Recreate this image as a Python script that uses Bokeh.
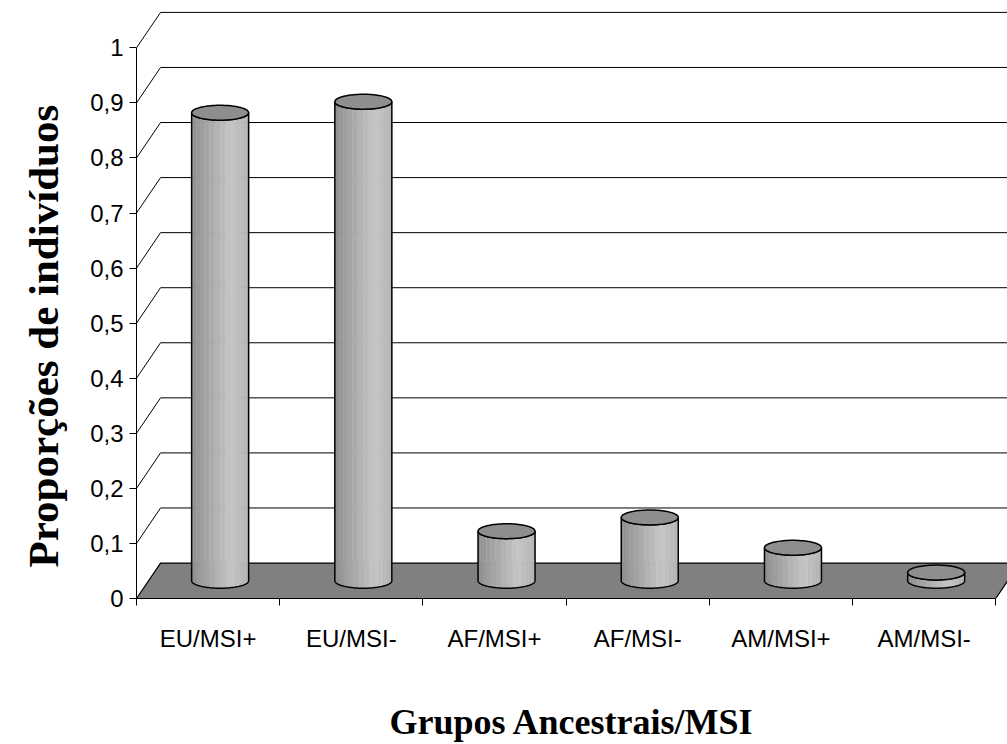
import numpy as np
from bokeh.plotting import figure
from bokeh.models import Range1d, FixedTicker, LinearAxis, ColumnDataSource, Title
from bokeh.embed import file_html
from bokeh.resources import INLINE

# Proportion of individuals per ancestral group / MSI status
categories = ["EU/MSI+", "EU/MSI-", "AF/MSI+", "AF/MSI-", "AM/MSI+", "AM/MSI-"]
proportions = [0.85, 0.87, 0.09, 0.115, 0.06, 0.015]

y_ticks = [0.0, 0.1, 0.2, 0.3, 0.4, 0.5, 0.6, 0.7, 0.8, 0.9, 1.0]
y_tick_labels = ["0", "0,1", "0,2", "0,3", "0,4", "0,5", "0,6", "0,7", "0,8", "0,9", "1"]

x_title = "Grupos Ancestrais/MSI"
y_title = "Proporções de indivíduos"

# pseudo-3D geometry (in data units)
n = len(categories)
depth_x = 0.168      # horizontal shift of the back wall, in category widths
depth_y = 0.0644     # vertical shift of the back wall, in value units
rad_x = 0.199        # cylinder radius (horizontal)
rad_y = 0.0135       # cylinder cap half-height
x_end = n + 0.082
y_end = 1.086

p = figure(width=1007, height=744, output_backend="svg", toolbar_location=None,
           x_range=Range1d(0, x_end), y_range=Range1d(0, y_end),
           x_axis_type=None, y_axis_type=None,
           min_border_left=136, min_border_right=0, min_border_top=0,
           min_border_bottom=137)
p.grid.visible = False
p.outline_line_color = None
p.background_fill_color = "white"
p.border_fill_color = "white"

# back wall gridlines with their diagonal on the side wall
for v in y_ticks[1:]:
    p.line([0, depth_x, x_end + 1], [v, v + depth_y, v + depth_y],
           line_color="black", line_width=1)

# floor
p.patch([0, depth_x, n + depth_x, n], [0, depth_y, depth_y, 0],
        fill_color="#808080", line_color="black", line_width=1.2)

# shading profile across a cylinder (0 = left edge, 1 = right edge)
shade_pos = [0.0, 0.3, 0.6, 0.85, 1.0]
shade_val = [180, 198, 175, 155, 142]

strip_xs, strip_ys, strip_col = [], [], []
out_xs, out_ys = [], []
cap_xs, cap_ys = [], []
n_strips = 16
for i, v in enumerate(proportions):
    cx = i + 0.5 + depth_x / 2
    y0 = depth_y / 2
    y1 = v + depth_y / 2
    th = np.linspace(np.pi, 0, n_strips + 1)
    for k in range(n_strips):
        tt = np.linspace(th[k], th[k + 1], 5)
        bx = cx + rad_x * np.cos(tt)
        by = y0 - rad_y * np.sin(tt)
        ty = y1 - rad_y * np.sin(tt)
        strip_xs.append(list(bx) + list(bx[::-1]))
        strip_ys.append(list(by) + list(ty[::-1]))
        t_mid = (1 - np.cos((th[k] + th[k + 1]) / 2)) / 2
        g = int(round(np.interp(t_mid, shade_pos, shade_val)))
        strip_col.append("#%02x%02x%02x" % (g, g, g))
    ta = np.linspace(np.pi, 0, 60)
    ax = cx + rad_x * np.cos(ta)
    out_xs.append(list(ax) + list(ax[::-1]))
    out_ys.append(list(y0 - rad_y * np.sin(ta)) + list((y1 - rad_y * np.sin(ta))[::-1]))
    tf = np.linspace(0, 2 * np.pi, 90)
    cap_xs.append(list(cx + rad_x * np.cos(tf)))
    cap_ys.append(list(y1 + rad_y * np.sin(tf)))

p.patches(source=ColumnDataSource(dict(xs=strip_xs, ys=strip_ys, c=strip_col)),
          xs="xs", ys="ys", fill_color="c", line_color="c", line_width=0.5)
p.patches(out_xs, out_ys, fill_color=None, line_color="black", line_width=1.5)
p.patches(cap_xs, cap_ys, fill_color="#8e8e8e", line_color="black", line_width=1.5)

# axes
tick_font = "Liberation Sans"
title_font = "Liberation Serif"

xaxis = LinearAxis(
    ticker=FixedTicker(ticks=[i + 0.5 for i in range(n)], minor_ticks=list(range(n + 1))),
    bounds=(0, n),
    major_label_overrides={i + 0.5: c for i, c in enumerate(categories)},
    major_tick_line_color=None, major_tick_in=0, major_tick_out=0,
    minor_tick_line_color="black", minor_tick_in=0, minor_tick_out=7,
    axis_line_color="black", axis_line_width=1,
    major_label_text_font=tick_font, major_label_text_font_size="24px",
    major_label_text_color="black", major_label_standoff=19,
    axis_label=x_title, axis_label_text_font=title_font,
    axis_label_text_font_style="bold", axis_label_text_font_size="36px",
    axis_label_text_color="black", axis_label_standoff=47)
p.add_layout(xaxis, "below")

yaxis = LinearAxis(
    ticker=FixedTicker(ticks=y_ticks),
    bounds=(0, 1),
    major_label_overrides={t: s for t, s in zip(y_ticks, y_tick_labels)},
    major_tick_line_color="black", major_tick_in=0, major_tick_out=7,
    minor_tick_line_color=None,
    axis_line_color="black", axis_line_width=1,
    major_label_text_font=tick_font, major_label_text_font_size="24px",
    major_label_text_color="black", major_label_standoff=6)
p.add_layout(yaxis, "left")

# vertical axis title
p.add_layout(Title(text=y_title, align="left", offset=31, standoff=37,
                   vertical_align="top",
                   text_font=title_font, text_font_style="bold",
                   text_font_size="43px", text_color="black"), "left")

open("out.html", "w").write(file_html(p, INLINE))
